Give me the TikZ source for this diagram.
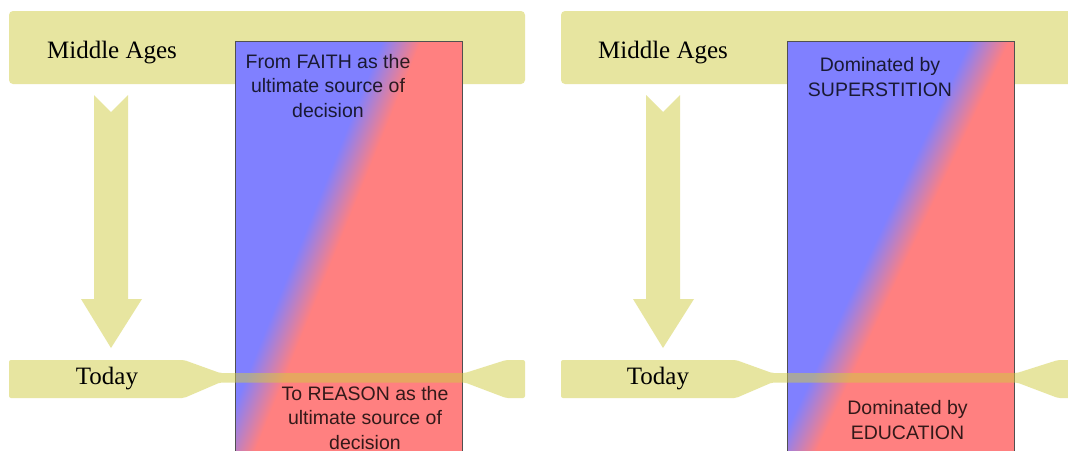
\documentclass[tikz,border=0pt]{standalone}
\usepackage{fontspec}
\setmainfont{Liberation Serif}
\newfontfamily\arialf{Liberation Sans}
\definecolor{myblue}{RGB}{128,128,255}
\definecolor{myred}{RGB}{255,128,128}
\definecolor{rgray}{RGB}{80,80,80}
\definecolor{ybase}{RGB}{208,205,66}
\begin{document}
\begin{tikzpicture}[x=1pt,y=-1pt,
  yel/.style={fill=ybase, fill opacity=0.5, draw=none},
  rectbox/.style={draw=rgray, line width=1pt},
  era/.style={font=\fontsize{25}{30}\selectfont, inner sep=0pt},
  note/.style={font=\arialf\fontsize{19.5}{24.5}\selectfont, align=center, text opacity=0.8, inner sep=0pt}]
\useasboundingbox (0,0) rectangle (1068,450);
\clip (0,0) rectangle (1068,450);
\fill[white] (0,0) rectangle (1068,450);

% ---------------- left panel ----------------
\fill[yel, rounded corners=4pt] (9,11) rectangle (525,84);
\node[era] (Lmid) at (112,53) {Middle Ages};
\fill[yel] (94,95) -- (111,112) -- (128,95) -- (128,299) -- (142,299) -- (111,348) -- (81,299) -- (94,299) -- cycle;
\begin{scope}
  \clip (235,41.5) rectangle (462.5,470);
  \begin{scope}[transform canvas={shift={(397,52)},rotate=-22.05}]
    \fill[myblue] (-700,-700) rectangle (0,700);
    \fill[myred] (0,-700) rectangle (700,700);
    \shade[left color=myblue,right color=myred] (-18,-700) rectangle (18,700);
  \end{scope}
\end{scope}
\draw[rectbox] (235,41.5) rectangle (462.5,470);
\fill[yel, rounded corners=2pt] (9,360) -- (184,360) -- (220,373) -- (465,373) -- (506,360) -- (525,360)
  -- (525,398) -- (506,398) -- (465,382.5) -- (220,382.5) -- (184,398) -- (9,398) -- cycle;
\node[era] (Ltoday) at (107,378.6) {Today};
\node[note] (Lfaith) at (328,86) {From FAITH as the\\ultimate source of\\decision};
\node[note] (Lreason) at (365,418) {To REASON as the\\ultimate source of\\decision};

% ---------------- right panel ----------------
\fill[yel, rounded corners=4pt] (561,11) rectangle (1077,84);
\node[era] (Rmid) at (663,53) {Middle Ages};
\fill[yel] (646,95) -- (663,112) -- (680,95) -- (680,299) -- (694,299) -- (663,348) -- (633,299) -- (646,299) -- cycle;
\begin{scope}
  \clip (787.5,41.5) rectangle (1014.5,470);
  \begin{scope}[transform canvas={shift={(985,50)},rotate=-25.2}]
    \fill[myblue] (-700,-700) rectangle (0,700);
    \fill[myred] (0,-700) rectangle (700,700);
    \shade[left color=myblue,right color=myred] (-18,-700) rectangle (18,700);
  \end{scope}
\end{scope}
\draw[rectbox] (787.5,41.5) rectangle (1014.5,470);
\fill[yel, rounded corners=2pt] (561,360) -- (736,360) -- (772,373) -- (1017,373) -- (1058,360) -- (1077,360)
  -- (1077,398) -- (1058,398) -- (1017,382.5) -- (772,382.5) -- (736,398) -- (561,398) -- cycle;
\node[era] (Rtoday) at (658,378.6) {Today};
\node[note] (Rsuper) at (880,77) {Dominated by\\SUPERSTITION};
\node[note] (Redu) at (907.5,420) {Dominated by\\EDUCATION};
\end{tikzpicture}
\end{document}
